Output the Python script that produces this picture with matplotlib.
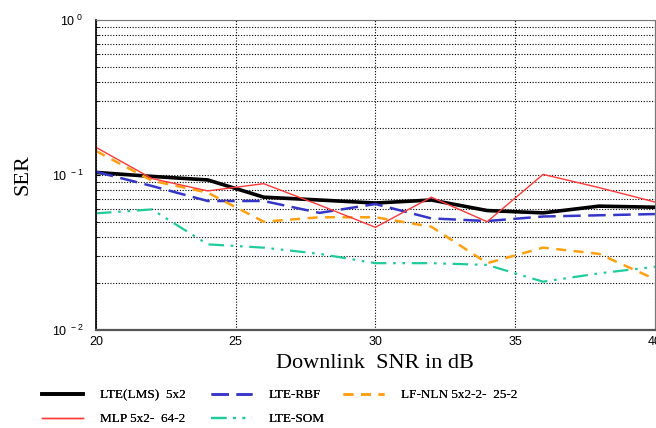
import matplotlib.pyplot as plt
import numpy as np
from matplotlib.ticker import FixedLocator, FixedFormatter, LogLocator, NullFormatter

snr = [20, 22, 24, 26, 28, 30, 32, 34, 36, 38, 40]

ser_lms = [0.104, 0.098, 0.093, 0.072, 0.069, 0.066, 0.069, 0.059, 0.057, 0.063, 0.062]
ser_rbf = [0.105, 0.085, 0.068, 0.068, 0.057, 0.065, 0.0525, 0.0505, 0.054, 0.055, 0.056]
ser_nln = [0.143, 0.092, 0.077, 0.050, 0.0534, 0.0534, 0.0464, 0.027, 0.034, 0.031, 0.0213]
ser_mlp = [0.151, 0.095, 0.079, 0.088, 0.064, 0.046, 0.072, 0.050, 0.101, 0.083, 0.067]
ser_som = [0.0566, 0.060, 0.0357, 0.034, 0.031, 0.027, 0.027, 0.0263, 0.0205, 0.0232, 0.0256]

labels = ["LTE(LMS)  5x2", "LTE-RBF", "LF-NLN 5x2-2-  25-2",
          "MLP 5x2-  64-2", "LTE-SOM"]

plt.rcParams["font.family"] = ["Liberation Sans", "DejaVu Sans"]

fig = plt.figure(figsize=(6.56, 4.28), dpi=100)
ax = fig.add_axes([0.1463, 0.229, 0.852, 0.724])

h_lms, = ax.plot(snr, ser_lms, color="black", lw=2.6)
h_rbf, = ax.plot(snr, ser_rbf, color="#3535c8", lw=1.8, dashes=(7, 3))
h_nln, = ax.plot(snr, ser_nln, color="#ffa010", lw=1.8, dashes=(4, 3))
h_mlp, = ax.plot(snr, ser_mlp, color="#ff3838", lw=1.0)
h_som, = ax.plot(snr, ser_som, color="#20cc9c", lw=1.6, dashes=(7, 3, 1.2, 3, 1.2, 3))

ax.set_yscale("log")
ax.set_xlim(20, 40)
ax.set_ylim(1e-2, 1e0)

ax.xaxis.set_major_locator(FixedLocator([20, 25, 30, 35, 40]))
ax.yaxis.set_major_locator(FixedLocator([1e-2, 1e-1, 1e0]))
ax.yaxis.set_major_formatter(FixedFormatter([r"$\mathregular{10^{\ -2}}$",
                                             r"$\mathregular{10^{\ -1}}$",
                                             r"$\mathregular{10^{\ 0}}$"]))
ax.yaxis.set_minor_locator(LogLocator(base=10, subs=np.arange(2, 10)))
ax.yaxis.set_minor_formatter(NullFormatter())

ax.tick_params(axis="both", which="both", direction="in", labelsize=9)
ax.tick_params(axis="y", which="major", pad=9, length=3)
ax.tick_params(axis="y", which="minor", length=2)
ax.tick_params(axis="x", length=0, pad=4)

ax.grid(True, which="both", axis="y", color="black", ls=(0, (1, 1.5)), lw=0.8)
ax.grid(True, which="major", axis="x", color="black", ls=(0, (1, 1.5)), lw=0.8)

for side in ["top", "right"]:
    ax.spines[side].set_color("#777777")
ax.spines["bottom"].set_linewidth(1.6)
ax.spines["bottom"].set_color("#555555")
ax.spines["left"].set_linewidth(1.2)

ax.set_xlabel("Downlink  SNR in dB", family="Liberation Serif", fontsize=16, labelpad=5)
ax.set_ylabel("SER", family="Liberation Serif", fontsize=16, labelpad=14)

# one legend per column, placed like the original
leg_kw = dict(loc="upper left", frameon=False, borderpad=0, borderaxespad=0,
              prop={"family": "Liberation Serif", "size": 9.5},
              handlelength=3.1, handletextpad=1.3, labelspacing=0.9)
columns = [([h_lms, h_mlp], [labels[0], labels[3]], 42),
           ([h_rbf, h_som], [labels[1], labels[4]], 211),
           ([h_nln], [labels[2]], 343)]
for handles, texts, x_px in columns:
    leg = fig.legend(handles, texts, bbox_to_anchor=(x_px / 656, 1 - 389 / 428), **leg_kw)
    fig.add_artist(leg)

fig.savefig("out.png", dpi=100)
